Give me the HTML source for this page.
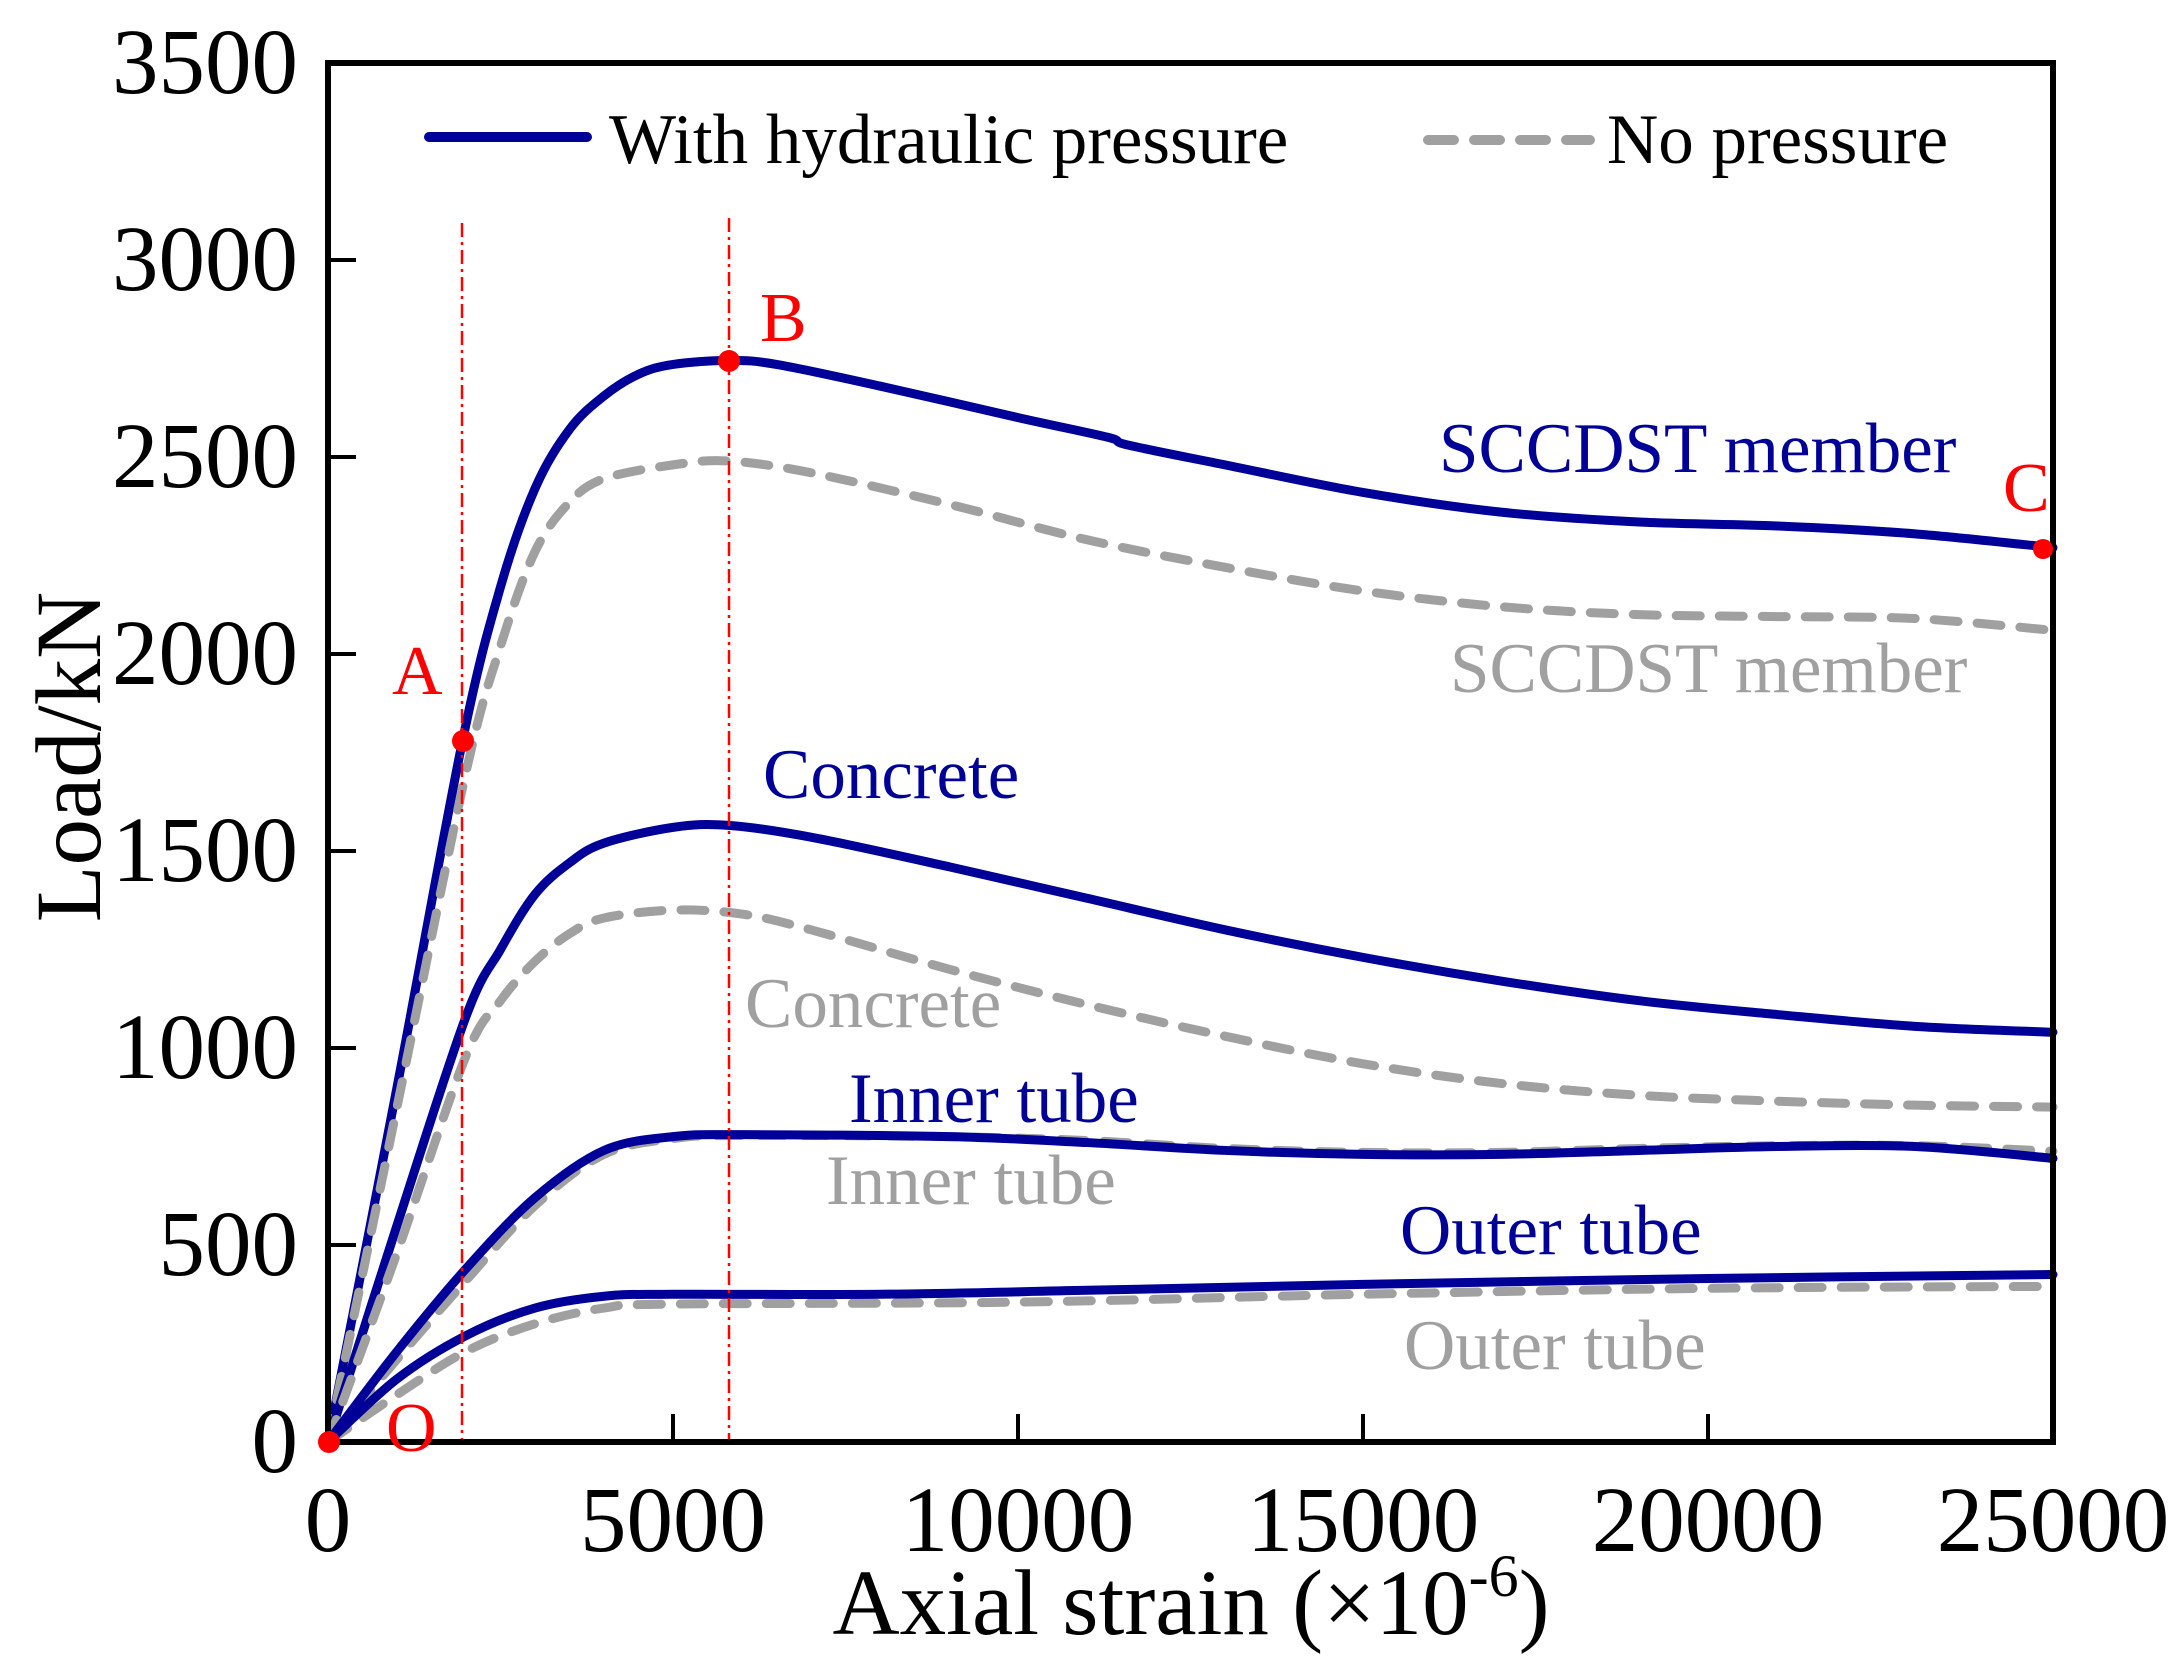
<!DOCTYPE html>
<html><head><meta charset="utf-8"><style>
html,body{margin:0;padding:0;background:#fff}
svg{display:block}
text{font-family:"Liberation Serif",serif}
</style></head><body>
<svg id="s" width="2179" height="1668" xmlns="http://www.w3.org/2000/svg">
<rect width="2179" height="1668" fill="#fff"/>
<g id="curves" fill="none" stroke-linejoin="round" stroke-linecap="round"></g>
<line x1="462" y1="223" x2="462" y2="1442" stroke="#f00" stroke-width="2.5" stroke-dasharray="14,5,3,5"/>
<line x1="729" y1="218" x2="729" y2="1442" stroke="#f00" stroke-width="2.5" stroke-dasharray="14,5,3,5"/>
<rect x="328" y="63" width="1725" height="1379" fill="none" stroke="#000" stroke-width="6"/>
<g stroke="#000" stroke-width="4">
<line x1="328" y1="1245" x2="356" y2="1245"/><line x1="328" y1="1048" x2="356" y2="1048"/>
<line x1="328" y1="851" x2="356" y2="851"/><line x1="328" y1="654" x2="356" y2="654"/>
<line x1="328" y1="457" x2="356" y2="457"/><line x1="328" y1="260" x2="356" y2="260"/>
<line x1="673" y1="1442" x2="673" y2="1414"/><line x1="1018" y1="1442" x2="1018" y2="1414"/>
<line x1="1363" y1="1442" x2="1363" y2="1414"/><line x1="1708" y1="1442" x2="1708" y2="1414"/>
</g>
<g font-size="93" text-anchor="end">
<text x="298" y="1472">0</text><text x="298" y="1275">500</text><text x="298" y="1078">1000</text>
<text x="298" y="881">1500</text><text x="298" y="684">2000</text><text x="298" y="487">2500</text>
<text x="298" y="290">3000</text><text x="298" y="93">3500</text>
</g>
<g font-size="93" text-anchor="middle">
<text x="328" y="1551">0</text><text x="673" y="1551">5000</text><text x="1018" y="1551">10000</text>
<text x="1363" y="1551">15000</text><text x="1708" y="1551">20000</text><text x="2053" y="1551">25000</text>
<text x="1191" y="1634">Axial strain (×10<tspan font-size="60" dy="-38">-6</tspan><tspan dy="38">)</tspan></text>
</g>
<text font-size="93" text-anchor="middle" transform="translate(100,757) rotate(-90)">Load/kN</text>
<line x1="429" y1="137" x2="587" y2="137" stroke="#000099" stroke-width="10" stroke-linecap="round"/>
<text x="609" y="163" font-size="71">With hydraulic pressure</text>
<line x1="1428" y1="140" x2="1590" y2="140" stroke="#a0a0a0" stroke-width="10" stroke-dasharray="26,20" stroke-linecap="round"/>
<text x="1607" y="163" font-size="71">No pressure</text>
<g font-size="71">
<text x="1439" y="472" fill="#000099">SCCDST member</text>
<text x="1450" y="692" fill="#a0a0a0">SCCDST member</text>
<text x="763" y="798" fill="#000099">Concrete</text>
<text x="745" y="1027" fill="#a0a0a0">Concrete</text>
<text x="849" y="1122" fill="#000099">Inner tube</text>
<text x="826" y="1204" fill="#a0a0a0">Inner tube</text>
<text x="1400" y="1254" fill="#000099">Outer tube</text>
<text x="1404" y="1369" fill="#a0a0a0">Outer tube</text>
</g>
<g font-size="70" fill="#f00">
<text x="392" y="694">A</text><text x="760" y="341">B</text><text x="2003" y="511">C</text><text x="386" y="1451">O</text>
</g>
<g fill="#f00">
<circle cx="329" cy="1442" r="11"/><circle cx="463" cy="741" r="11"/>
<circle cx="729" cy="361" r="11"/><circle cx="2043" cy="549" r="10"/>
</g>
</svg>
<script>
var X=function(x){return 328+x*0.069},Y=function(y){return 1442-y*0.394};
var S=[
["b",[[0,0],[1000,900],[1950,1780],[2500,2170],[3000,2420],[3500,2570],[4000,2655],[4500,2710],[5000,2735],[5800,2745],[6500,2735],[8000,2680],[10000,2600],[11300,2550],[11600,2530],[13000,2480],[15000,2410],[17000,2360],[19000,2335],[21000,2325],[23000,2305],[25000,2270]]],
["g",[[0,0],[1000,850],[2000,1700],[2500,2020],[3000,2260],[3500,2385],[4000,2445],[5000,2480],[5800,2490],[7000,2460],[9000,2380],[11000,2290],[13000,2220],[15000,2160],[17000,2120],[19000,2100],[21000,2095],[23000,2090],[25000,2060]]],
["b",[[0,0],[1000,550],[2000,1080],[2500,1250],[3000,1390],[3500,1470],[4000,1520],[5000,1560],[5800,1565],[7000,1535],[9000,1460],[11000,1380],[13000,1300],[15000,1230],[17000,1170],[19000,1120],[21000,1085],[23000,1055],[25000,1040]]],
["g",[[0,0],[1000,480],[2000,980],[2500,1120],[3000,1220],[3500,1290],[4000,1330],[5000,1350],[6000,1340],[7000,1300],[9000,1200],[11000,1110],[13000,1030],[15000,960],[17000,910],[19000,880],[21000,865],[23000,855],[25000,850]]],
["g",[[0,0],[1000,210],[2000,410],[3000,600],[4000,730],[5000,770],[6000,778],[9000,775],[11000,765],[13000,745],[15000,735],[17000,735],[19000,745],[21000,752],[23000,752],[25000,738]]],
["b",[[0,0],[1000,230],[2000,440],[3000,620],[4000,740],[5000,775],[6000,780],[9000,775],[11000,760],[13000,740],[15000,730],[17000,730],[19000,740],[21000,750],[23000,750],[25000,720]]],
["g",[[0,0],[1000,120],[2000,230],[3000,300],[4000,340],[5000,350],[10000,355],[15000,375],[20000,390],[25000,395]]],
["b",[[0,0],[1000,160],[2000,270],[3000,340],[4000,370],[5000,375],[8000,375],[11000,385],[15000,400],[20000,415],[25000,425]]]
];
function path(p){var q=p.map(function(a){return [X(a[0]),Y(a[1])]});var d="M"+q[0][0]+","+q[0][1];
for(var i=0;i<q.length-1;i++){var p0=q[i-1]||q[i],p1=q[i],p2=q[i+1],p3=q[i+2]||p2;
d+=" C"+(p1[0]+(p2[0]-p0[0])/6)+","+(p1[1]+(p2[1]-p0[1])/6)+" "+(p2[0]-(p3[0]-p1[0])/6)+","+(p2[1]-(p3[1]-p1[1])/6)+" "+p2[0]+","+p2[1];}return d;}
var g=document.getElementById("curves"),ns="http://www.w3.org/2000/svg";
S.forEach(function(s){var e=document.createElementNS(ns,"path");e.setAttribute("d",path(s[1]));
if(s[0]=="b"){e.setAttribute("stroke","#000099");e.setAttribute("stroke-width","9");}
else{e.setAttribute("stroke","#a0a0a0");e.setAttribute("stroke-width","9");e.setAttribute("stroke-dasharray","24,19");}
g.appendChild(e);});
</script>
</body></html>
